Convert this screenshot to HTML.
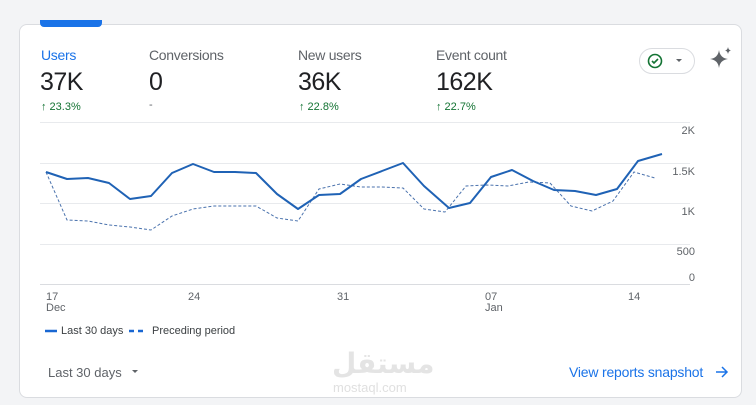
<!DOCTYPE html><html><head><meta charset="utf-8"><style>
body{margin:0;width:756px;height:405px;background:#f3f4f6;font-family:"Liberation Sans",sans-serif;overflow:hidden;position:relative}
.card{position:absolute;left:19px;top:24px;width:721px;height:372px;background:#fff;border:1px solid #dadce0;border-radius:8px}
.t{position:absolute;white-space:nowrap}
</style></head><body>
<div class="card"></div>
<div class="t" style="left:40px;top:20px;width:62px;height:7px;background:#1a73e8;border-radius:0 0 4px 4px"></div>
<div class="t" style="left:41px;top:47px;font-size:14px;color:#1a73e8;letter-spacing:-0.3px">Users</div>
<div class="t" style="left:149px;top:47px;font-size:14px;color:#5f6368;letter-spacing:-0.3px">Conversions</div>
<div class="t" style="left:298px;top:47px;font-size:14px;color:#5f6368;letter-spacing:-0.3px">New users</div>
<div class="t" style="left:436px;top:47px;font-size:14px;color:#5f6368;letter-spacing:-0.3px">Event count</div>
<div class="t" style="left:40px;top:68px;font-size:25px;color:#202124;letter-spacing:-0.5px">37K</div>
<div class="t" style="left:149px;top:68px;font-size:25px;color:#202124">0</div>
<div class="t" style="left:298px;top:68px;font-size:25px;color:#202124;letter-spacing:-0.5px">36K</div>
<div class="t" style="left:436px;top:68px;font-size:25px;color:#202124;letter-spacing:-0.5px">162K</div>
<div class="t" style="left:41px;top:101px;font-size:11px;color:#137333">↑ 23.3%</div>
<div class="t" style="left:149px;top:99px;font-size:11px;color:#5f6368">-</div>
<div class="t" style="left:299px;top:101px;font-size:11px;color:#137333">↑ 22.8%</div>
<div class="t" style="left:436px;top:101px;font-size:11px;color:#137333">↑ 22.7%</div>
<div class="t" style="left:639px;top:48px;width:54px;height:24px;border:1px solid #dadce0;border-radius:13px"></div>
<svg class="t" style="left:0;top:0" width="756" height="405">
<circle cx="655" cy="61" r="6.5" fill="none" stroke="#137333" stroke-width="1.6"/>
<path d="M652 61l2 2 4-4" fill="none" stroke="#137333" stroke-width="1.6"/>
<path d="M676 59l3 3 3-3z" fill="#5f6368"/>
<path d="M719 50q1 8 9 9q-8 1-9 9q-1-8-9-9q8-1 9-9z" fill="#5f6368"/>
<path d="M728 47q.5 3 3 3.5q-2.5.5-3 3.5q-.5-3-3-3.5q2.5-.5 3-3.5z" fill="#5f6368"/>
<g stroke="#e8eaed" stroke-width="1">
<line x1="40" y1="122.5" x2="690" y2="122.5"/><line x1="40" y1="163.5" x2="690" y2="163.5"/><line x1="40" y1="203.5" x2="690" y2="203.5"/><line x1="40" y1="244.5" x2="690" y2="244.5"/><line x1="40" y1="284.5" x2="690" y2="284.5" stroke="#dadce0"/></g>
<g font-size="11" fill="#5f6368" text-anchor="end">
<text x="695" y="134">2K</text><text x="695" y="175">1.5K</text><text x="695" y="215">1K</text><text x="695" y="255">500</text><text x="695" y="281">0</text></g>
<g font-size="11" fill="#5f6368">
<text x="46" y="300">17</text><text x="46" y="311">Dec</text><text x="188" y="300">24</text><text x="337" y="300">31</text><text x="485" y="300">07</text><text x="485" y="311">Jan</text><text x="628" y="300">14</text></g>
<polyline fill="none" stroke="#4a72ad" stroke-width="1" stroke-dasharray="3,2" points="46,172 67,220 88,221 109,225 130,227 151,230 172,216 193,209 214,206 235,206 256,206 277,218 298,221 319,189 340,184 361,187 382,187 403,188 424,209 445,212 466,186 487,185 508,186 529,182 550,183 571,206 592,211 613,201 634,172 655,178"/>
<polyline fill="none" stroke="#1f62b5" stroke-width="2" stroke-linejoin="round" points="46,172 67,179 88,178 109,183 130,199 151,196 172,173 193,164 214,172 235,172 256,173 277,194 298,209 319,195 340,194 361,179 382,171 403,163 424,186 449,208 470,203 491,177 512,170 533,181 554,190 575,191 596,195 617,189 638,161 662,154"/>
<line x1="45" y1="331" x2="57" y2="331" stroke="#1967d2" stroke-width="2.5"/>
<line x1="129" y1="331" x2="134" y2="331" stroke="#1967d2" stroke-width="2.5"/>
<line x1="138" y1="331" x2="143" y2="331" stroke="#1967d2" stroke-width="2.5"/>
<path d="M132 370l3 3 3-3z" fill="#5f6368"/>
<path d="M716 372h11M722 367l5 5-5 5" fill="none" stroke="#1a73e8" stroke-width="1.5"/>
</svg>
<div class="t" style="left:61px;top:325px;font-size:11px;color:#3c4043">Last 30 days</div>
<div class="t" style="left:152px;top:325px;font-size:11px;color:#3c4043">Preceding period</div>
<div class="t" style="left:48px;top:365px;font-size:13px;color:#5f6368">Last 30 days</div>
<div class="t" style="left:569px;top:364px;font-size:14px;color:#1a73e8;letter-spacing:-0.2px">View reports snapshot</div>
<div class="t" style="left:332px;top:347px;font-size:28px;color:#e4e4e4;font-weight:bold;font-family:'DejaVu Sans',sans-serif">مستقل</div>
<div class="t" style="left:333px;top:380px;font-size:13px;color:#e0e0e0">mostaql.com</div>
</body></html>
